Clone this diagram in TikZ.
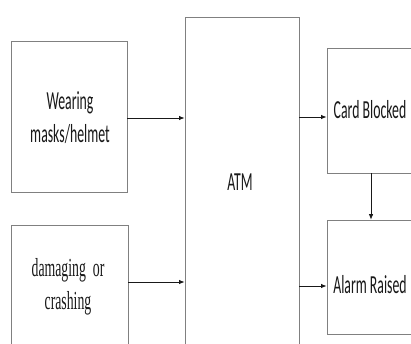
\documentclass[tikz,border=0pt]{standalone}
\usepackage{fontspec}
\newfontfamily\calfont[FakeStretch=0.53]{Carlito}
\newfontfamily\serfont[FakeStretch=0.53]{Liberation Serif}
\usetikzlibrary{arrows.meta}
\begin{document}
\begin{tikzpicture}[x=1pt,y=-1pt,
  boxst/.style={draw=black!50,line width=0.8pt,fill=white,inner sep=0pt},
  txt/.style={font=\calfont\fontsize{26}{33}\selectfont,text=black!90,align=center,inner sep=0pt},
  stxt/.style={font=\serfont\fontsize{26}{33}\selectfont,text=black!90,align=center,inner sep=0pt},
  arr/.style={draw=black!90,line width=0.9pt,-{Latex[length=5.5pt,width=4.5pt]}}]
\clip (0,0) rectangle (411,343);
\fill[white] (0,0) rectangle (411,343);
% boxes
\node[boxst,minimum width=116pt,minimum height=151pt] (wear) at (69,116.5) {};
\node[boxst,minimum width=117pt,minimum height=124pt] (dam) at (69.5,287) {};
\node[boxst,minimum width=114pt,minimum height=331pt] (atm) at (242,182.5) {};
\node[boxst,minimum width=88pt,minimum height=125pt] (card) at (371,110.5) {};
\node[boxst,minimum width=88pt,minimum height=114pt] (alarm) at (371,277) {};
% texts
\node[txt] (weart) at (70,118) {Wearing\\masks/helmet};
\node[stxt] (damt) at (68,287) {damaging~~or\\crashing};
\node[txt] (atmt) at (240,182) {ATM};
\node[txt] (cardt) at (370,110) {Card Blocked};
\node[txt] (alarmt) at (370,285) {Alarm Raised};
% connectors
\draw[arr] (wear.east |- 0,118) -- (atm.west |- 0,118);
\draw[arr] (dam.east |- 0,282) -- (atm.west |- 0,282);
\draw[arr] (atm.east |- 0,117) -- (card.west |- 0,117);
\draw[arr] (atm.east |- 0,286) -- (alarm.west |- 0,286);
\draw[arr,line width=0.7pt] (card.south) -- (alarm.north);
\end{tikzpicture}
\end{document}
